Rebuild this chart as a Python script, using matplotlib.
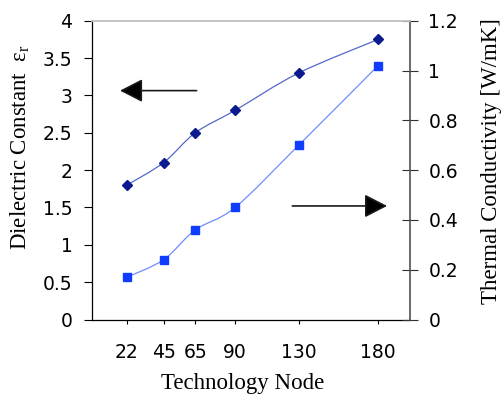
import numpy as np
import matplotlib
matplotlib.use("Agg")
import matplotlib.pyplot as plt
from matplotlib.path import Path
from matplotlib.patches import PathPatch

# Technology nodes (nm) and the two properties plotted against them
nodes = [22, 45, 65, 90, 130, 180]
dielectric_constant = [1.8, 2.1, 2.5, 2.8, 3.3, 3.75]
thermal_conductivity = [0.17, 0.24, 0.36, 0.45, 0.70, 1.02]

x_tick_labels = ["22", "45", "65", "90", "130", "180"]
left_ticks = [0, 0.5, 1, 1.5, 2, 2.5, 3, 3.5, 4]
left_tick_labels = ["0", "0.5", "1", "1.5", "2", "2.5", "3", "3.5", "4"]
right_ticks = [0, 0.2, 0.4, 0.6, 0.8, 1.0, 1.2]
right_tick_labels = ["0", "0.2", "0.4", "0.6", "0.8", "1", "1.2"]

plt.rcParams["mathtext.fontset"] = "custom"
plt.rcParams["mathtext.rm"] = "Liberation Serif"
plt.rcParams["mathtext.it"] = "Liberation Serif:italic"

TICK_FONT = dict(family="DejaVu Sans", size=13.5)
LABEL_FONT = dict(family="Liberation Serif", size=16.5)


def smooth_path(x, y):
    """Smoothed (Catmull-Rom style Bezier) path through the given points."""
    pts = np.column_stack([x, y]).astype(float)
    n = len(pts)
    verts = [pts[0]]
    codes = [Path.MOVETO]
    for i in range(n - 1):
        p0 = pts[max(i - 1, 0)]
        p1 = pts[i]
        p2 = pts[i + 1]
        p3 = pts[min(i + 2, n - 1)]
        verts += [p1 + (p2 - p0) / 6.0, p2 - (p3 - p1) / 6.0, p2]
        codes += [Path.CURVE4] * 3
    return Path(verts, codes)


fig = plt.figure(figsize=(5.02, 4.01), dpi=100)
ax = fig.add_axes([92 / 502, 1 - 319.5 / 401, 318 / 502, 298.8 / 401])
ax2 = ax.twinx()

# Left axis: dielectric constant
ax.add_patch(PathPatch(smooth_path(nodes, dielectric_constant), fill=False,
                       edgecolor="#5468c8", lw=0.9, zorder=2))
ax.plot(nodes, dielectric_constant, linestyle="none", marker="D", ms=4.8,
        color="#0b1a8c", zorder=3)
ax.set_xlim(0, 200)
ax.set_ylim(0, 4)
ax.set_yticks(left_ticks)
ax.set_yticklabels(left_tick_labels, **TICK_FONT)
ax.set_xticks(nodes)
ax.set_xticklabels(x_tick_labels, **TICK_FONT)
ax.tick_params(axis="y", direction="out", length=5.5, width=0.8, pad=8.5)
ax.tick_params(axis="x", direction="out", length=3, width=0.8, pad=14)

# Right axis: thermal conductivity
ax2.add_patch(PathPatch(smooth_path(nodes, thermal_conductivity), fill=False,
                        edgecolor="#6f8cff", lw=0.9, zorder=2))
ax2.plot(nodes, thermal_conductivity, linestyle="none", marker="s", ms=5.5,
         color="#0f3cff", zorder=3)
ax2.set_ylim(0, 1.2)
ax2.set_yticks(right_ticks)
ax2.set_yticklabels(right_tick_labels, **TICK_FONT)
ax2.tick_params(axis="y", direction="inout", length=11.5, width=0.8,
                color="#303030", pad=7.5)

for name in ("top", "right"):
    ax.spines[name].set_visible(False)
for name in ("left", "bottom"):
    ax2.spines[name].set_visible(False)
ax2.spines["right"].set_color("#505050")
ax2.spines["right"].set_linewidth(1.2)
ax2.spines["top"].set_color("#c0c0c0")
ax2.spines["top"].set_linewidth(1.3)
ax.spines["left"].set_linewidth(0.9)
ax.spines["bottom"].set_linewidth(0.9)

# Arrows pointing each series to its axis
arrow_style = "-|>,head_length=0.7,head_width=0.36"
for tail, tip in (((0.329, 0.766), (0.088, 0.766)),
                  ((0.630, 0.380), (0.928, 0.380))):
    ax.annotate("", xy=tip, xytext=tail, xycoords="axes fraction",
                arrowprops=dict(arrowstyle=arrow_style, mutation_scale=20,
                                lw=1.2, ec="#1a1a1a", fc="black",
                                shrinkA=0, shrinkB=0))

fig.text(243 / 502, 1 - 383 / 401, "Technology Node", ha="center",
         va="center", **LABEL_FONT)
fig.text(20 / 502, 1 - 147 / 401, "Dielectric Constant  ε$_\\mathrm{r}$",
         rotation=90, ha="center", va="center", **LABEL_FONT)
fig.text(492 / 502, 1 - 161 / 401, "Thermal Conductivity [W/mK]",
         rotation=90, ha="center", va="center", **LABEL_FONT)

fig.savefig("out.png", dpi=100)
